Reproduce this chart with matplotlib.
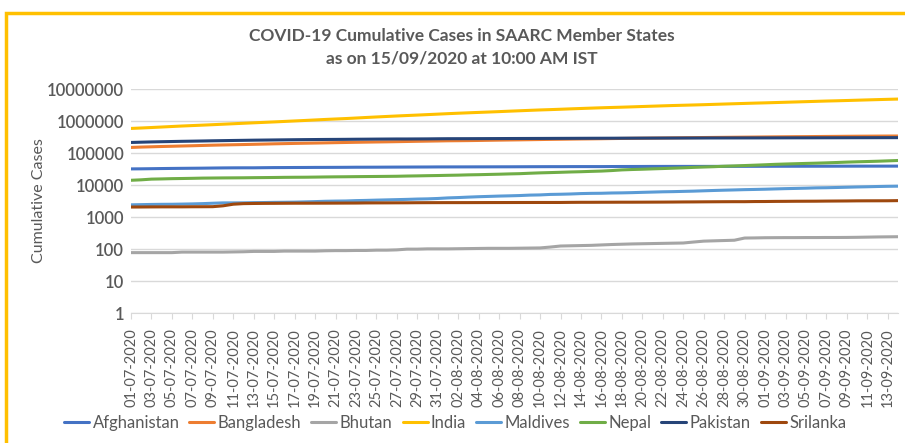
import matplotlib
matplotlib.use("Agg")
import matplotlib.pyplot as plt
from matplotlib.patches import Rectangle
import pandas as pd

dates = pd.date_range("2020-07-01", "2020-09-14", freq="D")
date_labels = [d.strftime("%d-%m-%Y") for d in dates]

afghanistan = [31836, 32022, 32324, 32672, 32951, 33190, 33384, 33594, 33908, 34194, 34366, 34451, 34455, 34740, 34994, 35070, 35229, 35301, 35475, 35526, 35615, 35727, 35928, 35981, 36036, 36157, 36263, 36368, 36471, 36542, 36710,
               36747, 36782, 36829, 36896, 36937, 37015, 37054, 37162, 37269, 37345, 37424, 37431, 37551, 37596, 37599, 37599, 37759, 37856, 37894, 37953, 38054, 38070, 38113, 38129, 38140, 38143, 38162, 38196, 38243, 38288, 38324,
               38398, 38494, 38520, 38544, 38572, 38606, 38641, 38716, 38772, 38815, 38855, 38872, 38883, 38919]
bangladesh = [149258, 153277, 156391, 159679, 162417, 165618, 168645, 172134, 175494, 178443, 181129, 183795, 186894, 190057, 193590, 196323, 199357, 202066, 204525, 207453, 210510, 213254, 216110, 218658, 221178, 223453, 226225, 229185, 232194, 234889, 237661,
              240746, 242102, 244020, 246674, 249651, 252502, 255113, 257600, 260507, 263503, 266498, 269115, 271881, 274525, 276549, 279144, 282344, 285091, 287959, 290360, 292625, 294598, 297083, 299628, 302147, 304583, 306794, 308925, 310822, 312996, 314946,
              317528, 319686, 321615, 323565, 325157, 327359, 329251, 331078, 332970, 334762, 336044, 337520, 338953, 339332]
bhutan = [77, 77, 77, 77, 77, 80, 80, 80, 80, 80, 81, 82, 84, 84, 84, 86, 86, 86, 86, 88, 89, 89, 90, 90, 92, 92, 94, 99, 99, 101, 101,
          101, 102, 103, 104, 105, 105, 105, 106, 107, 108, 115, 124, 126, 128, 130, 134, 138, 141, 144, 146, 148, 150, 152, 154, 165, 176, 180, 184, 188, 220, 222,
          225, 226, 227, 227, 228, 228, 229, 229, 230, 232, 235, 238, 240, 242]
india = [585493, 604641, 625544, 648315, 673165, 697413, 719665, 742417, 767296, 793802, 820916, 849553, 878254, 906752, 936181, 968876, 1003832, 1038716, 1077618, 1118043, 1155191, 1192915, 1238635, 1287945, 1336861, 1385522, 1435453, 1483156, 1531669, 1583792, 1638870,
         1695988, 1750723, 1803695, 1855745, 1908254, 1964536, 2027074, 2088611, 2153010, 2215074, 2268675, 2329638, 2396637, 2461190, 2526192, 2589682, 2647663, 2702742, 2767273, 2836925, 2905823, 2975701, 3044940, 3106348, 3167323, 3234474, 3310234, 3387500, 3463972, 3542733, 3621245,
         3691166, 3769523, 3853406, 3936747, 4023179, 4113811, 4204613, 4280422, 4370128, 4465863, 4562414, 4659984, 4754356, 4846427]
maldives = [2400, 2435, 2468, 2491, 2501, 2531, 2567, 2617, 2693, 2762, 2762, 2774, 2812, 2831, 2867, 2887, 2914, 2966, 3026, 3100, 3140, 3167, 3250, 3300, 3369, 3428, 3489, 3555, 3638, 3690, 3793,
            3953, 4050, 4185, 4304, 4402, 4507, 4585, 4680, 4832, 4901, 5077, 5142, 5240, 5394, 5478, 5515, 5630, 5679, 5771, 5897, 6010, 6132, 6205, 6318, 6428, 6587, 6747, 6886, 7016, 7161, 7265,
            7386, 7545, 7700, 7821, 7957, 8138, 8216, 8356, 8520, 8682, 8813, 8974, 9106, 9192]
nepal = [14046, 14519, 15259, 15491, 15784, 15964, 16168, 16423, 16531, 16649, 16719, 16801, 16945, 17060, 17177, 17344, 17444, 17502, 17658, 17844, 17994, 18094, 18241, 18374, 18482, 18613, 18752, 19063, 19273, 19547, 19771,
         20086, 20332, 20750, 21009, 21390, 21750, 22214, 22592, 23310, 23947, 24432, 24956, 25551, 26019, 26660, 27241, 28257, 29645, 30483, 31116, 31935, 32677, 33533, 34417, 35529, 36456, 37340, 38561, 39460, 40528, 41649,
         42877, 44235, 45276, 46256, 47236, 48138, 49217, 50464, 51918, 53120, 54158, 55328, 56787, 58327]
pakistan = [213470, 217809, 221896, 225283, 228474, 231818, 234509, 237489, 240848, 243599, 246351, 248872, 251625, 253604, 255769, 257914, 259999, 261917, 263496, 265083, 266096, 267428, 269191, 270400, 271887, 273113, 274289, 274289, 275225, 276288, 278305,
            279699, 280029, 280461, 281136, 281863, 282645, 283487, 284121, 284660, 285191, 285921, 286674, 287300, 288047, 288717, 289215, 289832, 290445, 290958, 291588, 292174, 292765, 293261, 293711, 294193, 294638, 295053, 295372, 295636, 295849, 296149,
            296590, 297014, 297512, 297956, 298025, 298509, 298903, 299233, 299659, 300030, 300371, 300955, 301481, 302020]
srilanka = [2047, 2054, 2066, 2074, 2076, 2077, 2089, 2094, 2103, 2236, 2511, 2617, 2646, 2665, 2674, 2687, 2697, 2699, 2703, 2709, 2715, 2724, 2730, 2753, 2761, 2766, 2775, 2781, 2797, 2805, 2810,
            2815, 2815, 2817, 2823, 2828, 2830, 2834, 2839, 2841, 2844, 2844, 2846, 2867, 2881, 2882, 2890, 2894, 2902, 2902, 2908, 2916, 2923, 2935, 2953, 2963, 2979, 2992, 3004, 3012, 3012, 3041,
            3049, 3074, 3085, 3103, 3111, 3120, 3142, 3157, 3171, 3195, 3204, 3210, 3217, 3250]

series = [("Afghanistan", afghanistan, "#4472C4"),
          ("Bangladesh", bangladesh, "#ED7D31"),
          ("Bhutan", bhutan, "#A5A5A5"),
          ("India", india, "#FFC000"),
          ("Maldives", maldives, "#5B9BD5"),
          ("Nepal", nepal, "#70AD47"),
          ("Pakistan", pakistan, "#264478"),
          ("Srilanka", srilanka, "#9E480E")]

y_ticks = [1, 10, 100, 1000, 10000, 100000, 1000000, 10000000]

plt.rcParams['font.family'] = ['Lato', 'DejaVu Sans']
txt = "#595959"

fig = plt.figure(figsize=(9.05, 4.43), dpi=100)
fig.patches.append(Rectangle((6/905, -0.1), 1.2, (443-13)/443 + 0.1, transform=fig.transFigure,
                             fill=False, edgecolor="#FFC000", linewidth=2.5, zorder=0))

ax = fig.add_axes([131/905, 1-313/443, 767/905, 224/443])
x = list(range(len(dates)))
for name, vals, col in series:
    ax.plot(x, vals, color=col, linewidth=2.2, label=name, solid_capstyle='round')

ax.set_yscale('log')
ax.set_ylim(1, 1e7)
ax.set_yticks(y_ticks)
ax.set_yticklabels([str(v) for v in y_ticks])
ax.yaxis.set_minor_locator(matplotlib.ticker.NullLocator())
ax.set_xlim(0, len(dates) - 1)
ax.set_xticks(x[::2])
ax.set_xticklabels(date_labels[::2], rotation=90)
ax.grid(axis='y', color='#D9D9D9', linewidth=1)
ax.set_axisbelow(True)
for s in ['top', 'right', 'left']:
    ax.spines[s].set_visible(False)
ax.spines['bottom'].set_color('#D9D9D9')
ax.tick_params(axis='y', length=0, labelsize=12, labelcolor=txt, pad=5)
ax.tick_params(axis='x', length=4, color='#D9D9D9', labelsize=10.5, labelcolor=txt, pad=7)
for lbl in ax.get_yticklabels():
    lbl.set_fontweight('semibold')
ax.set_ylabel("Cumulative Cases", fontsize=11.5, color=txt)
ax.yaxis.set_label_coords((46 - 131) / 767, 0.5)

fig.text(0.51, 1-36/443, "COVID-19 Cumulative Cases in SAARC Member States", ha='center', va='center',
         fontsize=12.5, fontweight='bold', color=txt)
fig.text(0.51, 1-59/443, "as on 15/09/2020 at 10:00 AM IST", ha='center', va='center',
         fontsize=12.5, fontweight='bold', color=txt)

fig.legend(loc='center', bbox_to_anchor=(0.503, 1-423/443), ncol=8, frameon=False, fontsize=12,
           handlelength=1.5, handletextpad=0.2, columnspacing=0.6, labelcolor=txt)

fig.savefig("out.png", dpi=100)
